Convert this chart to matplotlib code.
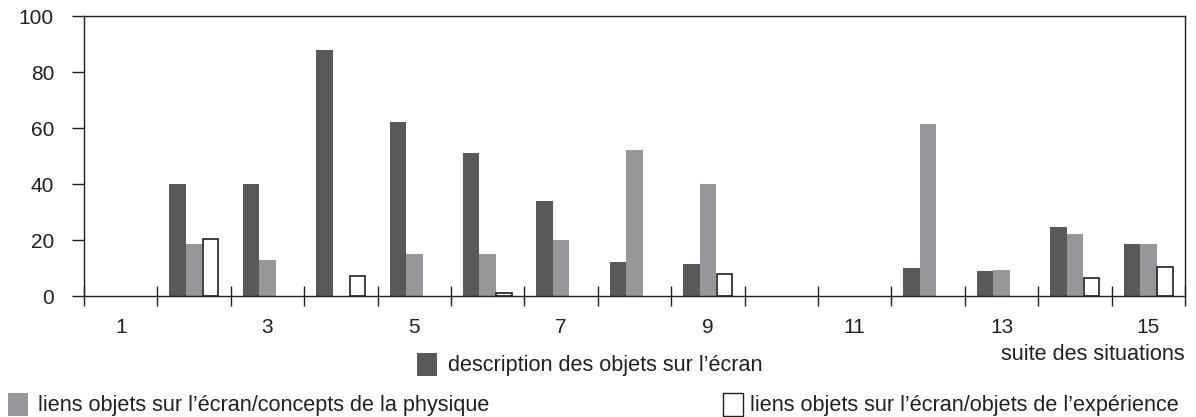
import numpy as np
import matplotlib
matplotlib.use("Agg")
import matplotlib.pyplot as plt
from matplotlib.patches import Rectangle

situations = np.arange(1, 16)
description = [0, 40, 40, 88, 62, 51, 34, 12, 11.5, 0, 0, 10, 9, 24.5, 18.6]
concepts    = [0, 18.6, 13, 0, 15, 15, 20, 52, 40, 0, 0, 61.5, 9.3, 22, 18.6]
experience  = [0, 20.5, 0, 7.3, 0, 1.2, 0, 0, 8, 0, 0, 0, 0, 6.4, 10.4]

labels = ["description des objets sur l\u2019écran",
          "liens objets sur l\u2019écran/concepts de la physique",
          "liens objets sur l\u2019écran/objets de l\u2019expérience"]

DARK = "#58595b"
GREY = "#96979a"
LINE = "#231f20"

plt.rcParams["font.family"] = ["Liberation Sans", "DejaVu Sans"]

W, H = 1196, 417
fig = plt.figure(figsize=(W / 100, H / 100), dpi=100)
ax = fig.add_axes([84 / W, 1 - 296 / H, (1185 - 84) / W, 280 / H])

# empty situations get no bar at all
def shown(vals):
    v = np.asarray(vals, dtype=float)
    return np.where(v > 0, v, np.nan)

bw = 0.225
ax.bar(situations - bw, shown(description), bw, color=DARK, linewidth=0)
ax.bar(situations, shown(concepts), bw, color=GREY, linewidth=0)
ax.bar(situations + bw, shown(experience), bw * 0.95, facecolor="white",
       edgecolor=LINE, linewidth=1.2)

ax.set_xlim(0.5, 15.5)
ax.set_ylim(0, 100)
ax.set_yticks(range(0, 101, 20))
ax.set_xticks(situations[::2])
ax.set_xticklabels([str(s) for s in situations[::2]])
ax.set_xticks(np.arange(0.5, 16, 1), minor=True)

fs = 15.6
ax.tick_params(axis="y", direction="out", length=8.6, width=1, color=LINE,
               labelsize=15, pad=13, labelcolor=LINE)
ax.tick_params(axis="x", which="major", length=0, labelsize=15, pad=16,
               labelcolor=LINE)
ax.tick_params(axis="x", which="minor", direction="inout", length=14.4,
               width=1, color=LINE)

for side in ["left", "right", "top", "bottom"]:
    ax.spines[side].set_color(LINE)
    ax.spines[side].set_linewidth(1)

fig.text(1185 / W, 1 - 355 / H, "suite des situations", ha="right",
         va="center", fontsize=fs, color=LINE)

# legend entries
entries = [(417, 353, DARK, "none", labels[0], 448),
           (8, 393, GREY, "none", labels[1], 38),
           (723, 393, "white", LINE, labels[2], 750)]
for x0, y0, fc, ec, txt, tx in entries:
    fig.patches.append(Rectangle((x0 / W, 1 - (y0 + 23) / H), 20 / W, 23 / H,
                                 transform=fig.transFigure, facecolor=fc,
                                 edgecolor=ec, linewidth=1))
    fig.text(tx / W, 1 - (y0 + 12) / H, txt, ha="left", va="center",
             fontsize=fs, color=LINE)

fig.savefig("out.png", dpi=100)
